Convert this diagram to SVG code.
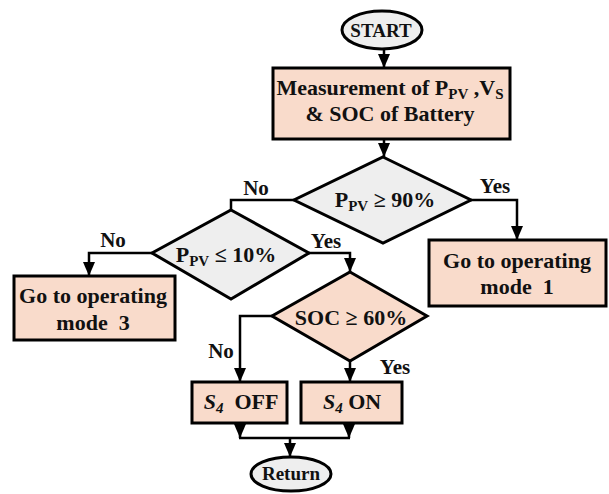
<svg xmlns="http://www.w3.org/2000/svg" width="609" height="494" viewBox="0 0 609 494">
<style>
  .box{fill:#f9dbcb;stroke:#000;stroke-width:3}
  .grey{fill:#eeeeee;stroke:#000;stroke-width:3}
  .peach{fill:#f9dbcb;stroke:#000;stroke-width:3}
  .t{font-family:"Liberation Serif","Times New Roman",serif;font-weight:bold;font-size:22px;fill:#111;text-anchor:middle}
  .e{font-size:19px}
  .lbl{font-family:"Liberation Serif","Times New Roman",serif;font-weight:bold;font-size:21px;fill:#111;text-anchor:middle}
  .c{fill:none;stroke:#000;stroke-width:2.5}
  .sub{font-size:15px}
</style>
<defs>
  <marker id="ah" markerUnits="userSpaceOnUse" markerWidth="14" markerHeight="12" viewBox="0 0 14 12" refX="14" refY="6" orient="auto">
    <path d="M0,0 L14,6 L0,12 z" fill="#000"/>
  </marker>
</defs>

<g id="start">
  <ellipse class="grey" cx="382" cy="30" rx="40" ry="19"/>
  <text class="t e" x="381" y="37">START</text>
</g>
<g id="measure">
  <rect class="box" x="273" y="68" width="237" height="71"/>
  <text class="t" x="390" y="95">Measurement of P<tspan class="sub" dy="4">PV</tspan><tspan dy="-4"> ,V</tspan><tspan class="sub" dy="4">S</tspan></text>
  <text class="t" x="390" y="121">&amp; SOC of Battery</text>
</g>
<g id="d1">
  <polygon class="grey" points="383,157 471,200 383,243 294,200"/>
  <text class="t" x="385" y="207">P<tspan class="sub" dy="4">PV</tspan><tspan dy="-4"> ≥ 90%</tspan></text>
</g>
<g id="mode1">
  <rect class="box" x="429" y="240" width="177" height="66"/>
  <text class="t" x="517" y="268">Go to operating</text>
  <text class="t" x="517" y="294" xml:space="preserve">mode  1</text>
</g>
<g id="d2">
  <polygon class="grey" points="231,210 309,253 231,299 152,253"/>
  <text class="t" x="226" y="262">P<tspan class="sub" dy="4">PV</tspan><tspan dy="-4"> ≤ 10%</tspan></text>
</g>
<g id="mode3">
  <rect class="box" x="14" y="276" width="161" height="64"/>
  <text class="t" x="93" y="303">Go to operating</text>
  <text class="t" x="93" y="330" xml:space="preserve">mode  3</text>
</g>
<g id="d3">
  <polygon class="peach" points="350,272 427,316 350,361 272,316"/>
  <text class="t" x="351" y="325">SOC ≥ 60%</text>
</g>
<g id="s4off">
  <rect class="box" x="192" y="382" width="95" height="41"/>
  <text class="t" x="241" y="409" xml:space="preserve"><tspan font-style="italic">S</tspan><tspan class="sub" font-style="italic" dy="4">4</tspan><tspan dy="-4">  OFF</tspan></text>
</g>
<g id="s4on">
  <rect class="box" x="301" y="382" width="101" height="41"/>
  <text class="t" x="352" y="409"><tspan font-style="italic">S</tspan><tspan class="sub" font-style="italic" dy="4">4</tspan><tspan dy="-4"> ON</tspan></text>
</g>
<g id="return">
  <ellipse class="grey" cx="291" cy="474" rx="40" ry="17"/>
  <text class="t e" x="291" y="480">Return</text>
</g>

<g id="connectors">
  <path class="c" d="M384,49 V68" marker-end="url(#ah)"/>
  <path class="c" d="M384,140 V157" marker-end="url(#ah)"/>
  <path class="c" d="M294,200 H231 V210"/>
  <path class="c" d="M471,200 H517 V240" marker-end="url(#ah)"/>
  <path class="c" d="M152,253 H89 V276" marker-end="url(#ah)"/>
  <path class="c" d="M309,253 H350 V272" marker-end="url(#ah)"/>
  <path class="c" d="M272,316 H240 V382" marker-end="url(#ah)"/>
  <path class="c" d="M350,361 V382" marker-end="url(#ah)"/>
  <path class="c" d="M240,423 V438" marker-end="url(#ah)"/>
  <path class="c" d="M349,423 V438" marker-end="url(#ah)"/>
  <path class="c" d="M239,438 H350"/>
  <path class="c" d="M290,438 V457" marker-end="url(#ah)"/>
  <text class="lbl" x="256" y="195">No</text>
  <text class="lbl" x="495" y="193">Yes</text>
  <text class="lbl" x="113" y="247">No</text>
  <text class="lbl" x="326" y="248">Yes</text>
  <text class="lbl" x="221" y="358">No</text>
  <text class="lbl" x="395" y="374">Yes</text>
</g>
</svg>
